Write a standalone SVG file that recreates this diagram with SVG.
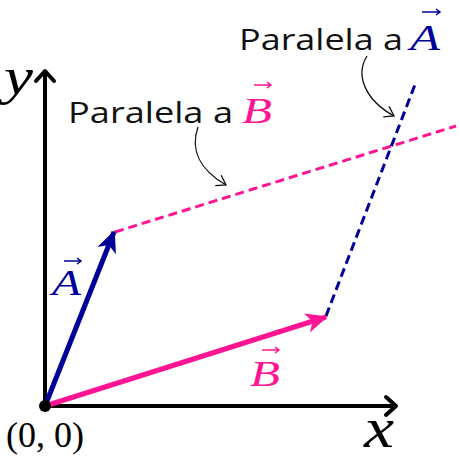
<svg xmlns="http://www.w3.org/2000/svg" width="460" height="460" viewBox="0 0 460 460">
<style>
.lbl{font-family:"Open Sans","Noto Sans",sans-serif;font-size:30px;fill:#111}
.math{font-family:"Liberation Serif","DejaVu Serif",serif;font-style:italic}
.blue{fill:#000099}
.pink{fill:#ff1493}
.vecarr{fill:none;stroke-width:1.5}
.callout{fill:none;stroke:#111;stroke-width:1.3}
.dash{stroke-width:3;stroke-dasharray:9,5}
</style>
<defs>
<marker id="axhead" markerUnits="userSpaceOnUse" markerWidth="30" markerHeight="30" viewBox="-15 -15 30 30" refX="0" refY="0" orient="auto">
<path d="M-10,-9 L0,0 L-10,9" fill="none" stroke="#000" stroke-width="4" stroke-linecap="round" stroke-linejoin="round"/>
</marker>
<marker id="headA" markerUnits="userSpaceOnUse" markerWidth="30" markerHeight="30" viewBox="-25 -15 30 30" refX="0" refY="0" orient="auto">
<path d="M2,0 L-20,-10 L-14,0 L-20,10 Z" fill="#000099"/>
</marker>
<marker id="headB" markerUnits="userSpaceOnUse" markerWidth="30" markerHeight="30" viewBox="-25 -15 30 30" refX="0" refY="0" orient="auto">
<path d="M2,0 L-20,-10 L-14,0 L-20,10 Z" fill="#ff1493"/>
</marker>
<marker id="open" markerUnits="userSpaceOnUse" markerWidth="20" markerHeight="20" viewBox="-10 -10 20 20" refX="0" refY="0" orient="auto">
<path d="M-9,-6 L0,0 L-9,6" fill="none" stroke="#111" stroke-width="1.3"/>
</marker>
</defs>

<g id="connectors">
<line id="dashB" class="dash" x1="115" y1="232" x2="456" y2="126" stroke="#ff1493"/>
<line id="dashA" class="dash" x1="326" y1="316" x2="416" y2="82" stroke="#000099"/>
<line id="xaxis" x1="45" y1="406" x2="396" y2="406" stroke="#000" stroke-width="4" marker-end="url(#axhead)"/>
<line id="yaxis" x1="45" y1="406" x2="45" y2="71" stroke="#000" stroke-width="4" marker-end="url(#axhead)"/>
<line id="vecB" x1="45" y1="406" x2="326" y2="317" stroke="#ff1493" stroke-width="5" marker-end="url(#headB)"/>
<line id="vecA" x1="45" y1="406" x2="114" y2="232" stroke="#000099" stroke-width="5" marker-end="url(#headA)"/>
<path id="calloutA" class="callout" d="M367,56 C355,75 365,100 394,116" marker-end="url(#open)"/>
<path id="calloutB" class="callout" d="M198,127 C190,150 200,170 226,185" marker-end="url(#open)"/>
</g>

<g id="origin">
<circle cx="45" cy="406" r="6" fill="#000"/>
<text x="6" y="447" font-family="Liberation Serif,DejaVu Serif,serif" font-size="35" fill="#000" textLength="78" lengthAdjust="spacingAndGlyphs">(0, 0)</text>
</g>

<g id="xlabel"><text class="math" x="364" y="447" font-size="56" fill="#000" textLength="30" lengthAdjust="spacingAndGlyphs">x</text></g>
<g id="ylabel"><text class="math" x="4" y="94" font-size="52" fill="#000" textLength="29" lengthAdjust="spacingAndGlyphs">y</text></g>

<g id="labelA">
<text class="math blue" x="52" y="295" font-size="36" textLength="29" lengthAdjust="spacingAndGlyphs">A</text>
<path class="vecarr" stroke="#000099" d="M64,261 H81 M77,258 L81,261 L77,264"/>
</g>

<g id="labelB">
<text class="math pink" x="250" y="386" font-size="36" textLength="30" lengthAdjust="spacingAndGlyphs">B</text>
<path class="vecarr" stroke="#ff1493" d="M262,350 H279 M275,347 L279,350 L275,353"/>
</g>

<g id="paraA">
<text class="lbl" x="239" y="50" textLength="164" lengthAdjust="spacingAndGlyphs">Paralela a</text>
<text class="math blue" x="410" y="50" font-size="36" textLength="30" lengthAdjust="spacingAndGlyphs">A</text>
<path class="vecarr" stroke="#000099" d="M422,12 H440 M436,9 L440,12 L436,15"/>
</g>

<g id="paraB">
<text class="lbl" x="68" y="123" textLength="165" lengthAdjust="spacingAndGlyphs">Paralela a</text>
<text class="math pink" x="242" y="123" font-size="36" textLength="30" lengthAdjust="spacingAndGlyphs">B</text>
<path class="vecarr" stroke="#ff1493" d="M254,85 H271 M267,82 L271,85 L267,88"/>
</g>
</svg>
